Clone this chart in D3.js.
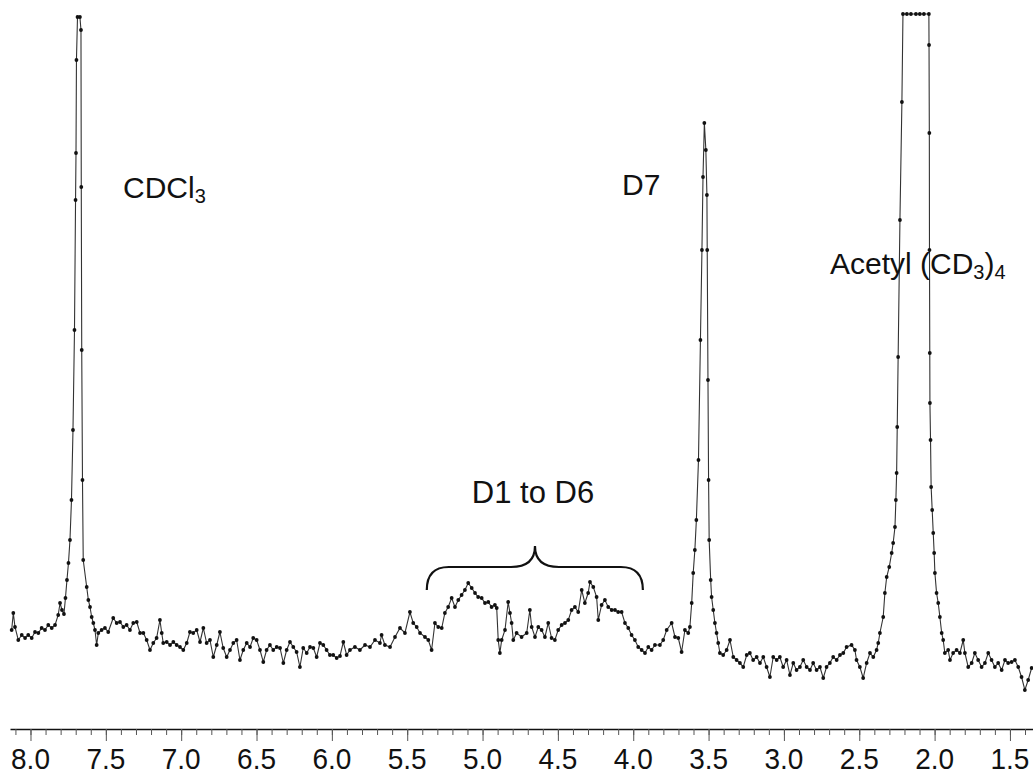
<!DOCTYPE html>
<html><head><meta charset="utf-8">
<script src="https://cdn.jsdelivr.net/npm/d3@7"></script>
<style>body{margin:0;background:#fff}svg{display:block}</style>
</head><body><svg id="chart" width="1033" height="775"></svg>
<script>
const shiftPpm = [
8.125,8.114,8.103,8.081,8.058,8.036,8.015,7.992,7.970,7.948,7.926,7.904,7.882,7.859,7.837,7.816,7.804,7.791,7.778,7.768,
7.758,7.748,7.738,7.728,7.718,7.708,7.701,7.698,7.695,7.688,7.672,7.665,7.663,7.660,7.655,7.650,7.627,7.616,7.605,7.594,
7.583,7.572,7.561,7.550,7.528,7.506,7.484,7.451,7.428,7.406,7.384,7.362,7.340,7.318,7.295,7.273,7.251,7.229,7.207,7.185,
7.163,7.141,7.129,7.119,7.096,7.074,7.052,7.030,7.008,6.986,6.963,6.942,6.920,6.897,6.875,6.853,6.831,6.809,6.787,6.764,
6.743,6.721,6.698,6.676,6.654,6.632,6.610,6.588,6.565,6.543,6.522,6.499,6.477,6.455,6.433,6.411,6.389,6.366,6.344,6.322,
6.300,6.278,6.256,6.234,6.212,6.190,6.167,6.145,6.123,6.101,6.079,6.057,6.035,6.013,5.991,5.968,5.946,5.924,5.902,5.880,
5.847,5.814,5.780,5.747,5.714,5.681,5.670,5.648,5.614,5.581,5.548,5.515,5.482,5.460,5.437,5.415,5.382,5.360,5.338,5.316,
5.294,5.271,5.250,5.228,5.205,5.183,5.161,5.139,5.117,5.095,5.072,5.050,5.029,5.006,4.984,4.962,4.940,4.918,4.906,4.896,
4.885,4.873,4.851,4.830,4.818,4.807,4.796,4.774,4.741,4.707,4.686,4.674,4.652,4.630,4.608,4.586,4.564,4.542,4.520,4.498,
4.475,4.453,4.431,4.409,4.387,4.365,4.342,4.321,4.299,4.287,4.265,4.243,4.232,4.210,4.188,4.166,4.143,4.121,4.100,4.077,
4.055,4.033,4.011,3.989,3.967,3.944,3.922,3.900,3.878,3.856,3.823,3.801,3.778,3.745,3.723,3.701,3.679,3.657,3.635,3.624,
3.612,3.602,3.591,3.581,3.567,3.554,3.544,3.537,3.528,3.518,3.511,3.509,3.504,3.500,3.496,3.486,3.480,3.469,3.458,3.447,
3.436,3.425,3.403,3.380,3.358,3.336,3.314,3.292,3.270,3.247,3.226,3.204,3.181,3.159,3.137,3.115,3.093,3.071,3.048,3.027,
3.005,2.982,2.960,2.938,2.916,2.894,2.872,2.849,2.827,2.806,2.783,2.761,2.739,2.717,2.695,2.673,2.650,2.628,2.606,2.584,
2.551,2.529,2.518,2.496,2.474,2.451,2.429,2.407,2.385,2.374,2.363,2.341,2.330,2.318,2.301,2.285,2.275,2.263,2.257,2.252,
2.248,2.242,2.230,2.217,2.210,2.184,2.157,2.124,2.098,2.071,2.038,2.037,2.035,2.034,2.032,2.031,2.027,2.023,2.016,2.009,
2.003,1.998,1.987,1.976,1.965,1.953,1.943,1.932,1.910,1.898,1.877,1.854,1.832,1.810,1.799,1.777,1.754,1.733,1.711,1.688,
1.666,1.644,1.622,1.600,1.578,1.555,1.533,1.512,1.489,1.467,1.445,1.423,1.401,1.379,1.356
];
// signal intensity (arbitrary units; 137.2 = top of the plot, off-scale points sit there)
const intensity = [
14.0,17.4,14.6,12.0,13.0,12.4,13.0,12.4,13.6,13.4,14.4,14.0,15.0,14.4,15.0,17.0,19.4,18.0,17.2,20.4,
24.0,27.4,32.0,40.0,54.0,74.0,100.0,109.4,128.0,136.6,136.6,134.0,102.6,70.0,44.0,28.0,22.6,20.0,18.6,16.6,
15.4,14.0,11.0,13.4,14.0,14.4,13.6,16.4,15.4,15.6,14.6,15.0,14.0,15.4,15.6,13.4,13.4,12.0,10.0,11.4,
12.4,16.0,13.4,11.4,11.6,11.0,11.6,11.0,10.6,10.0,11.4,13.6,13.4,14.0,11.6,14.4,11.4,12.0,8.6,11.0,
13.6,10.4,8.6,10.0,11.4,12.0,8.0,10.0,11.4,10.6,12.4,12.0,10.0,7.6,10.0,11.0,10.0,10.6,10.4,7.4,
10.0,11.6,10.6,9.6,6.6,10.4,9.4,10.6,10.4,8.6,11.4,11.0,10.0,9.0,9.0,8.4,8.8,11.6,9.0,10.0,
10.6,10.0,11.0,10.6,12.0,11.4,13.0,11.0,10.6,12.6,14.4,13.4,17.6,15.4,14.6,13.4,12.6,12.0,10.0,15.4,
14.6,14.4,17.4,18.6,20.4,18.6,20.0,21.0,22.0,23.4,22.4,21.4,20.6,20.4,19.4,19.6,18.6,19.0,18.4,12.0,
9.4,12.0,14.0,19.6,17.4,15.4,12.0,13.4,12.6,13.4,18.0,14.6,12.6,14.6,14.0,12.6,15.4,12.4,12.0,14.0,
15.0,15.4,16.0,18.0,18.6,17.6,22.0,19.4,21.4,23.6,22.6,20.6,16.0,19.0,20.0,18.6,18.0,18.0,17.6,17.6,
15.4,14.4,13.0,12.0,10.6,10.0,9.4,10.6,10.0,11.0,11.0,12.0,14.0,15.4,12.6,12.4,9.6,14.0,13.4,14.6,
19.4,25.4,30.0,36.0,48.0,72.0,90.0,104.6,115.4,110.0,101.0,90.0,64.0,44.0,32.0,24.0,20.6,18.0,15.4,13.4,
11.4,9.4,9.0,10.0,12.0,8.6,8.0,7.4,6.6,9.0,9.4,8.0,8.6,7.4,8.6,6.6,4.6,8.6,8.0,8.6,
6.6,8.0,5.0,7.4,6.0,6.6,8.0,6.6,6.0,7.4,6.0,6.6,4.4,6.6,7.4,8.6,8.0,9.0,9.4,10.6,
11.0,10.0,8.0,6.6,4.4,7.4,9.4,8.6,10.0,11.4,13.4,16.6,21.4,24.6,26.6,29.4,31.4,34.6,40.0,45.4,
54.6,68.6,96.0,119.6,137.2,137.2,137.2,137.2,137.2,137.2,137.2,131.0,113.4,90.0,69.4,59.4,52.0,42.6,38.0,33.4,
29.4,25.4,21.4,19.4,16.6,13.4,12.0,9.4,10.0,8.0,9.4,10.0,9.4,12.0,9.4,6.6,7.4,9.4,8.0,6.6,
7.4,9.4,8.0,6.6,7.4,6.0,8.0,7.4,7.6,8.0,6.6,4.6,2.0,4.0,6.4
];
const majorTicks = [8.0,7.5,7.0,6.5,6.0,5.5,5.0,4.5,4.0,3.5,3.0,2.5,2.0,1.5];
const tickLabels = ["8.0","7.5","7.0","6.5","6.0","5.5","5.0","4.5","4.0","3.5","3.0","2.5","2.0","1.5"];
const minorTicks = [8.1,8.0,7.9,7.8,7.7,7.6,7.5,7.4,7.3,7.2,7.1,7.0,6.9,6.8,6.7,6.6,6.5,6.4,6.3,6.2,6.1,6.0,
5.9,5.8,5.7,5.6,5.5,5.4,5.3,5.2,5.1,5.0,4.9,4.8,4.7,4.6,4.5,4.4,4.3,4.2,4.1,4.0,3.9,3.8,3.7,3.6,3.5,
3.4,3.3,3.2,3.1,3.0,2.9,2.8,2.7,2.6,2.5,2.4,2.3,2.2,2.1,2.0,1.9,1.8,1.7,1.6,1.5,1.4];

const FONT = "'Liberation Sans', Arial, Helvetica, sans-serif";
const svg = d3.select('#chart');
svg.append('rect').attr('width',1033).attr('height',775).attr('fill','#fff');

const x = d3.scaleLinear().domain([8.136, 1.347]).range([10, 1033]);
const y = d3.scaleLinear().domain([0, 137.2]).range([700, 14]).clamp(true);
const axisY = 729;

const points = shiftPpm.map((p, i) => ({p, v: intensity[i]}));

// axis: minor ticks
const gMinor = svg.append('g').attr('transform', `translate(0,${axisY})`)
  .call(d3.axisBottom(x).tickValues(minorTicks).tickSize(6).tickSizeOuter(0).tickFormat(''));
gMinor.select('.domain').attr('stroke','#111').attr('stroke-width',1.6);
gMinor.selectAll('.tick line').attr('stroke','#555').attr('stroke-width',1);
// major ticks
const gMajor = svg.append('g').attr('transform', `translate(0,${axisY})`)
  .call(d3.axisBottom(x).tickValues(majorTicks).tickSize(12).tickSizeOuter(0).tickFormat(''));
gMajor.select('.domain').remove();
gMajor.selectAll('.tick line').attr('stroke','#555').attr('stroke-width',1);
// tick labels
svg.append('g').selectAll('text').data(majorTicks).join('text')
  .attr('transform', d => `translate(${x(d)},769) scale(1,1.07)`)
  .attr('text-anchor','middle')
  .style('font-family', FONT).style('font-size','28px').attr('fill','#111')
  .text((d, i) => tickLabels[i]);

// spectrum trace
const line = d3.line().x(d => x(d.p)).y(d => y(d.v));
svg.append('path').datum(points).attr('d', line)
  .attr('fill','none').attr('stroke','#333').attr('stroke-width',1.1);
svg.append('g').selectAll('circle').data(points).join('circle')
  .attr('cx', d => x(d.p)).attr('cy', d => y(d.v)).attr('r', 1.9).attr('fill','#111');

// annotations
function label(xp, yp, size, anchor) {
  return svg.append('text').attr('x', xp).attr('y', yp)
    .attr('text-anchor', anchor || 'start')
    .style('font-family', FONT).style('font-size', size + 'px').attr('fill','#111');
}
const t1 = label(123, 198, 30);
t1.append('tspan').text('CDCl');
t1.append('tspan').attr('dy', 5).style('font-size','20px').text('3');

label(622, 195, 30).text('D7');

const t3 = label(830, 274, 30);
t3.append('tspan').text('Acetyl (CD');
t3.append('tspan').attr('dy', 5).style('font-size','20px').text('3');
t3.append('tspan').attr('dy', -5).text(')');
t3.append('tspan').attr('dy', 5).style('font-size','20px').text('4');

label(533, 503, 31, 'middle').text('D1 to D6');

// brace over D1-D6 region
const bl = x(5.370), br = x(3.936), bc = x(4.652);
const bTop = 567, bEnd = 590, bTip = 546;
svg.append('path')
  .attr('d', `M${bl},${bEnd} Q${bl},${bTop} ${bl+22},${bTop} L${bc-24},${bTop} Q${bc},${bTop} ${bc},${bTip} Q${bc},${bTop} ${bc+24},${bTop} L${br-22},${bTop} Q${br},${bTop} ${br},${bEnd}`)
  .attr('fill','none').attr('stroke','#111').attr('stroke-width',2.2);
</script></body></html>
